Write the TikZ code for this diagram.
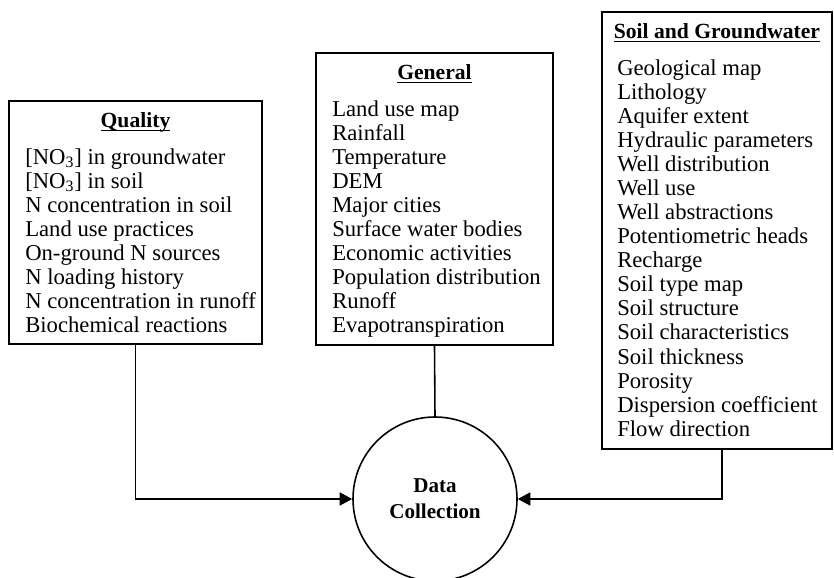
\documentclass[tikz,border=0pt]{standalone}
\usepackage{fontspec}
\setmainfont{Liberation Serif}
\usetikzlibrary{positioning,arrows.meta,calc}

\begin{document}
\begin{tikzpicture}[
  font=\fontsize{12.9}{13.7}\selectfont,
  box/.style={draw, line width=1.2pt, inner sep=0pt},
  ttl/.style={anchor=base, inner sep=0pt, font=\fontsize{12.3}{13.7}\selectfont\bfseries},
  lst/.style={anchor=north west, inner sep=0pt, align=left},
  hub/.style={circle, draw, line width=0.9pt, minimum size=3.28cm, inner sep=0pt, align=center,
              font=\fontsize{12}{14.8}\selectfont\bfseries},
  arr/.style={-{Triangle[length=2.5mm, width=2.6mm]}, line width=0.9pt},
]
\useasboundingbox (0,0) rectangle (16.68,11.54);
% data boxes
\node[box, minimum width=5.06cm, minimum height=4.86cm] (quality) at (2.71,7.09) {};
\node[box, minimum width=4.74cm, minimum height=5.84cm] (general) at (8.69,7.56) {};
\node[box, minimum width=4.60cm, minimum height=8.74cm] (soil) at (14.34,6.93) {};
% titles
\node[ttl] (qualityT) at ([yshift=-5.6mm]quality.north) {\underline{\smash{Quality}}};
\node[ttl] (generalT) at ([yshift=-5.6mm]general.north) {\underline{\smash{General}}};
\node[ttl] (soilT) at ([yshift=-5.6mm]soil.north) {\underline{\smash{Soil and Groundwater}}};
% lists
\node[lst] (qualityL) at ([xshift=3.4mm, yshift=-9.4mm]quality.north west) {\strut[NO\textsubscript{3}] in groundwater\\
  \strut[NO\textsubscript{3}] in soil\\ N concentration in soil\\ Land use practices\\ On-ground N sources\\
  N loading history\\ N concentration in runoff\\ Biochemical reactions};
\node[lst] (generalL) at ([xshift=3.4mm, yshift=-9.4mm]general.north west) {\strut Land use map\\
  Rainfall\\ Temperature\\ DEM\\ Major cities\\ Surface water bodies\\ Economic activities\\
  Population distribution\\ Runoff\\ Evapotranspiration};
\node[lst] (soilL) at ([xshift=3.2mm, yshift=-9.4mm]soil.north west) {\strut Geological map\\
  Lithology\\ Aquifer extent\\ Hydraulic parameters\\ Well distribution\\ Well use\\
  Well abstractions\\ Potentiometric heads\\ Recharge\\ Soil type map\\ Soil structure\\
  Soil characteristics\\ Soil thickness\\ Porosity\\ Dispersion coefficient\\ Flow direction};
% data collection
\node[hub] (collect) at (8.70,1.56) {Data\\Collection};
% connectors
\draw[arr] (quality.south) |- (collect.west);
\draw[line width=0.9pt] (general.south) -- (collect.north);
\draw[arr] ([xshift=1mm]soil.south) |- (collect.east);
\end{tikzpicture}
\end{document}
